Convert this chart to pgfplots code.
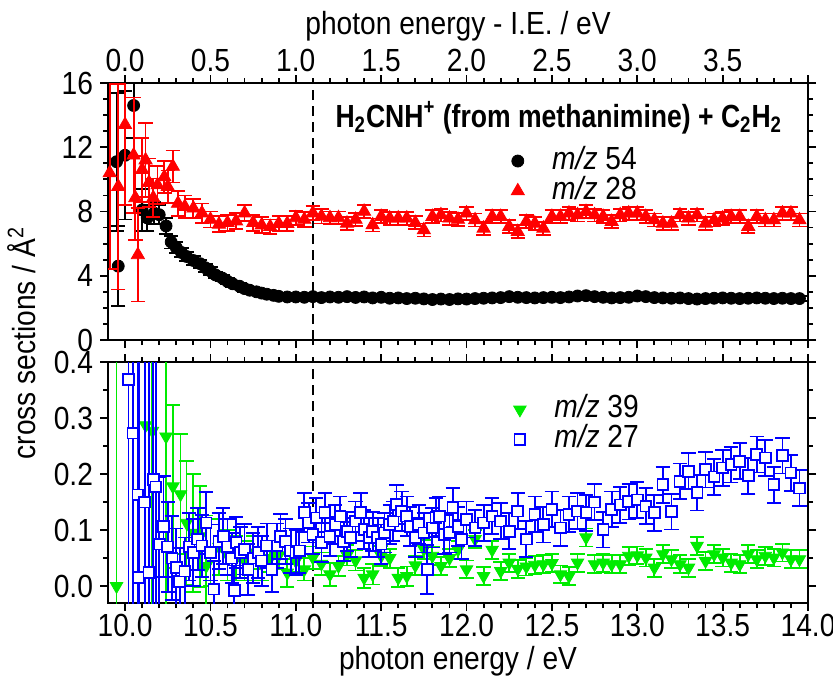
\documentclass[border=0pt]{standalone}
\usepackage{fontspec}
\setmainfont{Liberation Sans}[FakeStretch=0.88]
\newfontfamily\titlefont{Liberation Sans}[FakeStretch=0.83]
\usepackage{pgfplots}
\pgfplotsset{compat=1.18}
\definecolor{mygreen}{RGB}{0,235,0}
\pgfplotsset{
  panel/.style={
    scale only axis, width=350pt,
    xmin=9.9, xmax=14.0,
    tick align=outside,
    major tick length=4pt, minor tick length=2.5pt,
    axis line style={line width=1.1pt},
    every tick/.style={black, line width=0.9pt},
    xtick={10,10.5,...,14}, minor x tick num=4,
    /pgf/number format/assume math mode=true,
    clip mode=individual,
    legend cell align=left,
    legend style={draw=none, fill=none, inner sep=0pt, row sep=0pt,
      nodes={inner ysep=0pt, text height=11.5pt, text depth=3.5pt}},
    legend image code/.code={\path (0pt,0pt) (20pt,0pt); \draw[#1] plot coordinates {(5pt,0pt)};},
  },
  ebar/.style={error bars/.cd, y dir=both, y explicit,
    error bar style={line width=0.9pt, solid},
    error mark options={rotate=90, mark size=3.6pt, line width=0.9pt}},
}
\begin{document}
\begin{tikzpicture}[font=\fontsize{16}{19}\selectfont]
\path[use as bounding box] (-54pt,-37pt) rectangle (362.5pt,301.5pt);
% ---------------- bottom panel ----------------
\begin{axis}[panel, at={(0pt,0pt)}, anchor=south west, height=120.5pt,
  ymin=-0.03, ymax=0.4, ytick={0,0.1,0.2,0.3,0.4}, minor y tick num=1,
  xticklabel style={yshift=2pt, /pgf/number format/.cd, fixed, fixed zerofill, precision=1},
  yticklabel style={/pgf/number format/.cd, fixed, fixed zerofill, precision=1},
  xlabel={photon energy / eV},
  xlabel style={yshift=2pt},
  legend style={at={(rel axis cs:0.573,0.74)}, anchor=west},
]
\addplot[forget plot, black, line width=1pt, dash pattern=on 5pt off 3pt] coordinates {(11.1,-0.03) (11.1,0.4)};
\addplot[only marks, mygreen, mark=triangle*, mark options={rotate=180, mygreen, fill=mygreen}, mark size=3.6pt, ebar] table[x index=0, y index=1, y error index=2] {
x y e
9.95 0.000 0.5
10.12 0.287 0.4
10.16 0.277 0.4
10.24 0.267 0.3
10.28 0.178 0.146
10.325 0.164 0.107
10.36 0.113 0.11
10.40 0.095 0.105
10.44 0.089 0.09
10.475 0.036 0.09
10.50 0.060 0.06
10.55 0.070 0.05
10.60 0.055 0.045
10.65 0.050 0.04
10.70 0.045 0.035
10.75 0.060 0.03
10.80 0.040 0.03
10.85 0.050 0.025
10.90 0.055 0.025
10.95 0.024 0.025
11.00 0.045 0.02
11.05 0.030 0.02
11.10 0.051 0.02
11.15 0.040 0.02
11.20 0.021 0.02
11.25 0.036 0.018
11.30 0.055 0.018
11.35 0.046 0.018
11.40 0.015 0.018
11.45 0.021 0.018
11.50 0.054 0.018
11.55 0.050 0.017
11.60 0.015 0.017
11.65 0.018 0.017
11.70 0.037 0.017
11.75 0.066 0.017
11.80 0.054 0.016
11.85 0.036 0.016
11.90 0.050 0.016
11.95 0.065 0.016
12.00 0.030 0.016
12.05 0.084 0.016
12.10 0.018 0.016
12.15 0.065 0.016
12.20 0.027 0.016
12.25 0.042 0.016
12.30 0.031 0.016
12.35 0.035 0.016
12.40 0.038 0.016
12.45 0.039 0.016
12.50 0.041 0.016
12.55 0.021 0.016
12.60 0.018 0.016
12.65 0.042 0.016
12.70 0.087 0.016
12.75 0.039 0.016
12.80 0.042 0.016
12.85 0.039 0.016
12.90 0.039 0.016
12.95 0.054 0.016
13.00 0.055 0.016
13.05 0.051 0.016
13.10 0.033 0.016
13.15 0.057 0.016
13.20 0.048 0.016
13.25 0.039 0.016
13.30 0.033 0.016
13.35 0.072 0.016
13.40 0.045 0.016
13.45 0.057 0.016
13.50 0.051 0.016
13.55 0.042 0.016
13.60 0.039 0.016
13.65 0.057 0.016
13.70 0.048 0.016
13.75 0.054 0.016
13.80 0.051 0.016
13.85 0.060 0.016
13.90 0.048 0.016
13.95 0.048 0.016
};
\addlegendentry{\textit{m/z} 39}
\addplot[only marks, blue, mark=square*, mark options={blue, fill=white, line width=0.9pt}, mark size=2.7pt, ebar] table[x index=0, y index=1, y error index=2] {
x y e
10.02 0.369 0.5
10.046 0.273 0.5
10.075 0.163 0.5
10.08 0.015 0.5
10.115 0.150 0.5
10.14 0.024 0.5
10.165 0.190 0.45
10.18 0.177 0.3
10.20 0.075 0.12
10.225 0.107 0.09
10.25 0.070 0.08
10.275 0.050 0.075
10.30 0.033 0.07
10.32 0.008 0.06
10.35 0.027 0.06
10.375 0.070 0.06
10.40 0.060 0.06
10.425 0.084 0.055
10.45 0.072 0.055
10.475 0.113 0.055
10.50 0.060 0.05
10.52 -0.005 0.05
10.55 0.080 0.05
10.575 0.089 0.05
10.60 0.070 0.05
10.625 0.050 0.045
10.64 -0.008 0.045
10.65 0.078 0.045
10.675 0.060 0.045
10.70 0.066 0.045
10.72 0.030 0.045
10.75 0.050 0.045
10.78 0.060 0.045
10.80 0.045 0.045
10.83 0.072 0.04
10.86 0.030 0.04
10.89 0.072 0.04
10.91 0.089 0.04
10.94 0.080 0.04
10.97 0.063 0.04
11.00 0.060 0.04
11.02 0.063 0.04
11.05 0.131 0.035
11.075 0.113 0.035
11.10 0.092 0.035
11.12 0.122 0.035
11.15 0.078 0.035
11.17 0.131 0.035
11.20 0.089 0.035
11.23 0.110 0.035
11.26 0.125 0.035
11.28 0.080 0.035
11.30 0.098 0.035
11.32 0.087 0.035
11.35 0.116 0.035
11.38 0.131 0.035
11.40 0.101 0.035
11.43 0.087 0.035
11.45 0.098 0.035
11.48 0.087 0.035
11.50 0.075 0.035
11.52 0.095 0.035
11.55 0.110 0.035
11.57 0.116 0.035
11.59 0.146 0.035
11.62 0.134 0.035
11.65 0.125 0.035
11.67 0.107 0.035
11.70 0.087 0.035
11.72 0.110 0.035
11.75 0.095 0.035
11.77 0.030 0.044
11.80 0.104 0.035
11.82 0.123 0.035
11.84 0.125 0.035
11.87 0.092 0.035
11.90 0.095 0.035
11.92 0.140 0.035
11.95 0.107 0.035
11.97 0.084 0.035
12.00 0.119 0.032
12.05 0.104 0.032
12.10 0.113 0.032
12.15 0.125 0.032
12.20 0.116 0.032
12.25 0.098 0.032
12.30 0.134 0.032
12.35 0.084 0.032
12.40 0.128 0.032
12.45 0.110 0.032
12.50 0.137 0.032
12.55 0.104 0.032
12.60 0.128 0.032
12.65 0.134 0.032
12.70 0.131 0.032
12.75 0.150 0.032
12.80 0.101 0.032
12.85 0.137 0.032
12.90 0.145 0.032
12.95 0.151 0.032
13.00 0.154 0.032
13.05 0.143 0.032
13.10 0.131 0.032
13.15 0.181 0.032
13.20 0.133 0.032
13.25 0.187 0.032
13.30 0.205 0.032
13.35 0.167 0.032
13.40 0.208 0.032
13.45 0.195 0.032
13.50 0.211 0.032
13.55 0.217 0.032
13.60 0.223 0.032
13.65 0.197 0.032
13.70 0.235 0.032
13.75 0.229 0.032
13.80 0.181 0.032
13.85 0.233 0.032
13.90 0.202 0.032
13.95 0.175 0.032
};
\addlegendentry{\textit{m/z} 27}
\end{axis}
% ---------------- top panel ----------------
\begin{axis}[panel, at={(0pt,131.5pt)}, anchor=south west, height=128.5pt,
  ymin=0, ymax=16, ytick={0,4,8,12,16}, minor y tick num=3,
  xticklabel pos=upper,
  xticklabels={0.0,0.5,1.0,1.5,2.0,2.5,3.0,3.5,},
  xticklabel style={yshift=-2pt},
  xlabel={photon energy - I.E. / eV},
  xlabel style={yshift=-3pt},
  legend style={at={(rel axis cs:0.570,0.638)}, anchor=west},
]
\addplot[forget plot, black, line width=1pt, dash pattern=on 5pt off 3pt] coordinates {(11.1,0) (11.1,16)};
\addplot[only marks, black, mark=*, mark size=3pt, ebar] table[x index=0, y index=1, y error index=2] {
x y e
9.95 11.1 4.3
9.96 4.6 2.5
10.00 11.5 4.0
10.05 14.6 2.0
10.10 8.1 1.3
10.13 7.6 0.8
10.17 7.9 0.7
10.20 7.8 0.6
10.24 7.1 0.5
10.27 6.1 0.4
10.30 5.75 0.35
10.33 5.45 0.3
10.36 5.2 0.3
10.40 4.95 0.3
10.44 4.75 0.25
10.47 4.5 0.25
10.50 4.3 0.25
10.53 4.05 0.2
10.57 3.85 0.2
10.60 3.65 0.2
10.63 3.5 0.2
10.67 3.35 0.2
10.70 3.2 0.2
10.73 3.1 0.2
10.77 3.0 0.2
10.80 2.92 0.2
10.83 2.85 0.2
10.87 2.78 0.2
10.90 2.72 0.2
10.95 2.68 0.15
11.00 2.68 0.15
11.05 2.66 0.15
11.10 2.70 0.15
11.15 2.64 0.15
11.20 2.68 0.15
11.25 2.66 0.15
11.30 2.70 0.15
11.35 2.65 0.15
11.40 2.68 0.15
11.45 2.62 0.15
11.50 2.66 0.15
11.55 2.60 0.15
11.60 2.62 0.15
11.65 2.58 0.15
11.70 2.60 0.15
11.75 2.56 0.15
11.80 2.52 0.15
11.85 2.55 0.15
11.90 2.52 0.15
11.95 2.56 0.15
12.00 2.55 0.15
12.05 2.58 0.15
12.10 2.60 0.15
12.15 2.62 0.15
12.20 2.64 0.15
12.25 2.70 0.15
12.30 2.66 0.15
12.35 2.64 0.15
12.40 2.62 0.15
12.45 2.64 0.15
12.50 2.66 0.15
12.55 2.64 0.15
12.60 2.68 0.15
12.65 2.74 0.15
12.70 2.76 0.15
12.75 2.70 0.15
12.80 2.66 0.15
12.85 2.62 0.15
12.90 2.64 0.15
12.95 2.66 0.15
13.00 2.74 0.15
13.05 2.70 0.15
13.10 2.64 0.15
13.15 2.62 0.15
13.20 2.60 0.15
13.25 2.62 0.15
13.30 2.58 0.15
13.35 2.55 0.15
13.40 2.58 0.15
13.45 2.60 0.15
13.50 2.62 0.15
13.55 2.60 0.15
13.60 2.58 0.15
13.65 2.60 0.15
13.70 2.62 0.15
13.75 2.60 0.15
13.80 2.58 0.15
13.85 2.60 0.15
13.90 2.58 0.15
13.95 2.58 0.15
};
\addlegendentry{\textit{m/z} 54}
\addplot[only marks, red, mark=triangle*, mark size=3.8pt, ebar] table[x index=0, y index=1, y error index=2] {
x y e
9.91 10.4 6.0
9.96 9.55 6.4
10.00 13.4 5.0
10.05 11.5 3.6
10.06 8.85 2.6
10.075 5.3 2.9
10.10 10.6 2.0
10.12 11.2 2.3
10.14 9.8 1.5
10.165 8.85 1.2
10.19 9.65 1.2
10.23 10.15 1.0
10.25 9.55 1.0
10.28 10.8 1.0
10.31 8.5 0.8
10.35 8.3 0.7
10.40 8.2 0.6
10.45 7.9 0.6
10.50 7.5 0.5
10.55 7.2 0.5
10.60 7.3 0.5
10.65 7.4 0.5
10.70 7.9 0.5
10.75 7.3 0.5
10.80 7.15 0.5
10.85 7.05 0.45
10.90 7.25 0.45
10.95 7.25 0.45
11.00 7.6 0.45
11.05 7.5 0.45
11.10 7.9 0.45
11.15 7.7 0.45
11.20 7.6 0.4
11.25 7.6 0.4
11.30 7.26 0.4
11.35 7.5 0.4
11.40 8.0 0.4
11.45 7.16 0.4
11.50 7.68 0.4
11.55 7.58 0.4
11.60 7.58 0.4
11.65 7.58 0.4
11.70 7.3 0.4
11.75 6.85 0.4
11.80 7.68 0.4
11.85 7.78 0.4
11.90 7.58 0.4
11.95 7.5 0.4
12.00 7.89 0.4
12.05 7.47 0.4
12.10 6.95 0.4
12.15 7.68 0.4
12.20 7.68 0.4
12.25 7.06 0.4
12.30 6.74 0.4
12.35 7.37 0.4
12.40 7.26 0.4
12.45 6.95 0.4
12.50 7.68 0.4
12.55 7.68 0.4
12.60 7.89 0.4
12.65 7.78 0.4
12.70 7.99 0.4
12.75 7.78 0.4
12.80 7.68 0.4
12.85 7.37 0.4
12.90 7.78 0.4
12.95 7.89 0.4
13.00 7.89 0.4
13.05 7.68 0.4
13.10 7.47 0.4
13.15 7.26 0.4
13.20 7.26 0.4
13.25 7.78 0.4
13.30 7.58 0.4
13.35 7.78 0.4
13.40 7.26 0.4
13.45 7.47 0.4
13.50 7.58 0.4
13.55 7.68 0.4
13.60 7.68 0.4
13.65 7.06 0.4
13.70 7.68 0.4
13.75 7.47 0.4
13.80 7.47 0.4
13.85 7.89 0.4
13.90 7.89 0.4
13.95 7.47 0.4
};
\addlegendentry{\textit{m/z} 28}
\node[font=\titlefont\fontsize{16}{19}\selectfont\bfseries] at (rel axis cs:0.644,0.864) {H\textsubscript{2}CNH\textsuperscript{+} (from methanimine) + C\textsubscript{2}H\textsubscript{2}};
\end{axis}
\node[rotate=90] at (-43pt,130pt) {cross sections / Å\textsuperscript{2}};
\end{tikzpicture}
\end{document}
